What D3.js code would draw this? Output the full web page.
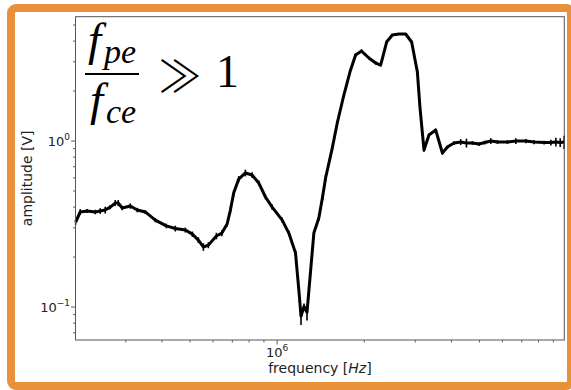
<!DOCTYPE html>
<html>
<head>
<meta charset="utf-8">
<script src="https://cdn.jsdelivr.net/npm/d3@7"></script>
<style>
  html, body { margin: 0; padding: 0; background: #fff; }
  svg { display: block; }
</style>
</head>
<body>
<svg id="chart" width="571" height="390"></svg>
<script>
// ---- data ----
const freq = [
  2.013e5, 2.087e5, 2.206e5, 2.351e5, 2.447e5, 2.546e5, 2.650e5, 2.757e5, 2.824e5, 2.915e5,
  3.108e5, 3.286e5, 3.502e5, 3.793e5, 4.140e5, 4.447e5, 4.816e5, 5.092e5, 5.341e5, 5.559e5,
  5.785e5, 6.166e5, 6.442e5, 6.714e5, 6.893e5, 7.076e5, 7.364e5, 7.767e5, 8.193e5, 8.636e5,
  9.111e5, 9.610e5, 1.041e6, 1.097e6, 1.157e6, 1.188e6, 1.209e6, 1.238e6, 1.268e6, 1.339e6,
  1.393e6, 1.435e6, 1.470e6, 1.550e6, 1.613e6, 1.700e6, 1.784e6, 1.866e6, 1.957e6, 2.075e6,
  2.189e6, 2.278e6, 2.389e6, 2.500e6, 2.635e6, 2.779e6, 2.915e6, 3.051e6, 3.114e6, 3.216e6,
  3.346e6, 3.530e6, 3.723e6, 3.875e6, 4.084e6, 4.308e6, 4.508e6, 4.728e6, 4.984e6, 5.216e6,
  5.472e6, 5.771e6, 6.250e6, 6.677e6, 7.231e6, 7.725e6, 8.365e6, 8.825e6, 9.184e6, 9.504e6, 9.811e6
];
const amplitude = [
  0.325, 0.374, 0.379, 0.374, 0.379, 0.384, 0.400, 0.423, 0.423, 0.395,
  0.406, 0.384, 0.374, 0.334, 0.308, 0.297, 0.291, 0.275, 0.253, 0.230,
  0.236, 0.268, 0.279, 0.316, 0.384, 0.486, 0.590, 0.642, 0.624, 0.559,
  0.460, 0.400, 0.334, 0.279, 0.212, 0.127, 0.088, 0.101, 0.093, 0.279,
  0.344, 0.460, 0.599, 0.907, 1.284, 1.893, 2.604, 3.297, 3.484, 3.162,
  2.951, 2.870, 3.949, 4.351, 4.412, 4.412, 3.949, 2.604, 1.603, 0.883,
  1.087, 1.165, 0.847, 0.920, 0.973, 0.986, 0.973, 0.973, 0.959, 0.979,
  1.000, 0.986, 0.986, 1.000, 1.000, 0.986, 0.979, 0.979, 0.986, 0.979, 0.986
];
const amplitudeErr = [
  0.012, 0.015, 0.010, 0.012, 0.015, 0.018, 0.012, 0.018, 0.018, 0.012,
  0.015, 0.012, 0.010, 0.010, 0.010, 0.012, 0.010, 0.010, 0.010, 0.012,
  0.010, 0.012, 0.012, 0.012, 0.015, 0.020, 0.025, 0.030, 0.025, 0.020,
  0.015, 0.015, 0.012, 0.010, 0.008, 0.006, 0.010, 0.004, 0.010, 0.010,
  0.012, 0.018, 0.025, 0.030, 0.040, 0.060, 0.080, 0.080, 0.080, 0.060,
  0.060, 0.060, 0.080, 0.060, 0.060, 0.060, 0.080, 0.060, 0.040, 0.020,
  0.025, 0.025, 0.020, 0.020, 0.025, 0.040, 0.060, 0.025, 0.025, 0.025,
  0.040, 0.025, 0.025, 0.040, 0.030, 0.030, 0.025, 0.040, 0.060, 0.060, 0.090
];
const xLimits = [2.01e5, 9.82e6];
const yLimits = [0.0633, 5.61];
const xMajorTicks = [1e6];
const xMajorLabels = [["10", "6"]];
const xMinorTicks = [3e5, 4e5, 5e5, 6e5, 7e5, 8e5, 9e5, 2e6, 3e6, 4e6, 5e6, 6e6, 7e6, 8e6, 9e6];
const yMajorTicks = [0.1, 1];
const yMajorLabels = [["10", "\u22121"], ["10", "0"]];
const yMinorTicks = [0.07, 0.08, 0.09, 0.2, 0.3, 0.4, 0.5, 0.6, 0.7, 0.8, 0.9, 2, 3, 4, 5];
const xTitle = ["frequency [", "Hz", "]"];
const yTitle = "amplitude [V]";

// ---- layout ----
const svg = d3.select("#chart");
const plot = { left: 75.5, right: 564.3, top: 16.7, bottom: 340 };

// orange frame
svg.append("rect")
  .attr("x", 11).attr("y", 8).attr("width", 560).attr("height", 378)
  .attr("rx", 5).attr("ry", 5)
  .attr("fill", "#fff").attr("stroke", "#E8913A").attr("stroke-width", 8);

const x = d3.scaleLog().domain(xLimits).range([plot.left, plot.right]);
const y = d3.scaleLog().domain(yLimits).range([plot.bottom, plot.top]);

const g = svg.append("g");
const tickColor = "#333";

// x ticks
g.selectAll(".xminor").data(xMinorTicks).join("line")
  .attr("x1", d => x(d)).attr("x2", d => x(d))
  .attr("y1", plot.bottom).attr("y2", plot.bottom + 2.5)
  .attr("stroke", tickColor).attr("stroke-width", 0.8);
g.selectAll(".xmajor").data(xMajorTicks).join("line")
  .attr("x1", d => x(d)).attr("x2", d => x(d))
  .attr("y1", plot.bottom).attr("y2", plot.bottom + 4.5)
  .attr("stroke", tickColor).attr("stroke-width", 0.8);
xMajorTicks.forEach((t, i) => {
  const tx = g.append("text").attr("x", x(t)).attr("y", 357)
    .attr("text-anchor", "middle").attr("font-family", "DejaVu Sans")
    .attr("font-size", 13).attr("fill", "#222");
  tx.append("tspan").text(xMajorLabels[i][0]);
  tx.append("tspan").attr("font-size", 9).attr("dy", -6).text(xMajorLabels[i][1]);
});

// y ticks
g.selectAll(".yminor").data(yMinorTicks).join("line")
  .attr("x1", plot.left).attr("x2", plot.left - 2.5)
  .attr("y1", d => y(d)).attr("y2", d => y(d))
  .attr("stroke", tickColor).attr("stroke-width", 0.8);
g.selectAll(".ymajor").data(yMajorTicks).join("line")
  .attr("x1", plot.left).attr("x2", plot.left - 4.5)
  .attr("y1", d => y(d)).attr("y2", d => y(d))
  .attr("stroke", tickColor).attr("stroke-width", 0.8);
yMajorTicks.forEach((t, i) => {
  const tx = g.append("text").attr("x", 70).attr("y", y(t) + 5)
    .attr("text-anchor", "end").attr("font-family", "DejaVu Sans")
    .attr("font-size", 13).attr("fill", "#222");
  tx.append("tspan").text(yMajorLabels[i][0]);
  tx.append("tspan").attr("font-size", 9).attr("dy", -6).text(yMajorLabels[i][1]);
});

// axis titles
const xt = g.append("text").attr("x", (plot.left + plot.right) / 2).attr("y", 373)
  .attr("text-anchor", "middle").attr("font-family", "DejaVu Sans")
  .attr("font-size", 14).attr("fill", "#222");
xt.append("tspan").text(xTitle[0]);
xt.append("tspan").attr("font-style", "italic").text(xTitle[1]);
xt.append("tspan").text(xTitle[2]);

g.append("text")
  .attr("transform", `translate(31.5,${(plot.top + plot.bottom) / 2}) rotate(-90)`)
  .attr("text-anchor", "middle").attr("font-family", "DejaVu Sans")
  .attr("font-size", 14).attr("fill", "#222").text(yTitle);

// data
const pts = freq.map((f, i) => ({ f, a: amplitude[i], e: amplitudeErr[i] }));

const line = d3.line().x(d => x(d.f)).y(d => y(d.a));
g.append("path").datum(pts).attr("d", line)
  .attr("fill", "none").attr("stroke", "#000").attr("stroke-width", 3)
  .attr("stroke-linejoin", "round");

g.selectAll(".err").data(pts).join("line")
  .attr("x1", d => x(d.f)).attr("x2", d => x(d.f))
  .attr("y1", d => y(d.a - d.e)).attr("y2", d => y(d.a + d.e))
  .attr("stroke", "#000").attr("stroke-width", 1.6);

// frame (spines)
g.append("rect")
  .attr("x", plot.left).attr("y", plot.top)
  .attr("width", plot.right - plot.left).attr("height", plot.bottom - plot.top)
  .attr("fill", "none").attr("stroke", "#555").attr("stroke-width", 1);

// annotation  f_pe / f_ce >> 1
const ann = svg.append("g").attr("fill", "#000");
const num = ann.append("text").attr("x", 112).attr("y", 55).attr("text-anchor", "middle")
  .attr("font-family", "Liberation Serif").attr("font-size", 47).attr("font-style", "italic");
num.append("tspan").text("f");
num.append("tspan").attr("font-size", 34).attr("dx", 3).attr("dy", 8).text("pe");
const den = ann.append("text").attr("x", 113).attr("y", 115).attr("text-anchor", "middle")
  .attr("font-family", "Liberation Serif").attr("font-size", 47).attr("font-style", "italic");
den.append("tspan").text("f");
den.append("tspan").attr("font-size", 34).attr("dx", 3).attr("dy", 8).text("ce");
ann.append("line").attr("x1", 85).attr("x2", 139).attr("y1", 74).attr("y2", 74)
  .attr("stroke", "#000").attr("stroke-width", 2);
ann.append("text").attr("x", 180).attr("y", 74).attr("text-anchor", "middle")
  .attr("dominant-baseline", "central")
  .attr("font-family", "Noto Sans CJK JP").attr("font-weight", 300)
  .attr("font-size", 44).text("\u226B");
ann.append("text").attr("x", 216).attr("y", 87).attr("font-family", "Liberation Serif")
  .attr("font-size", 46).text("1");
</script>
</body>
</html>
